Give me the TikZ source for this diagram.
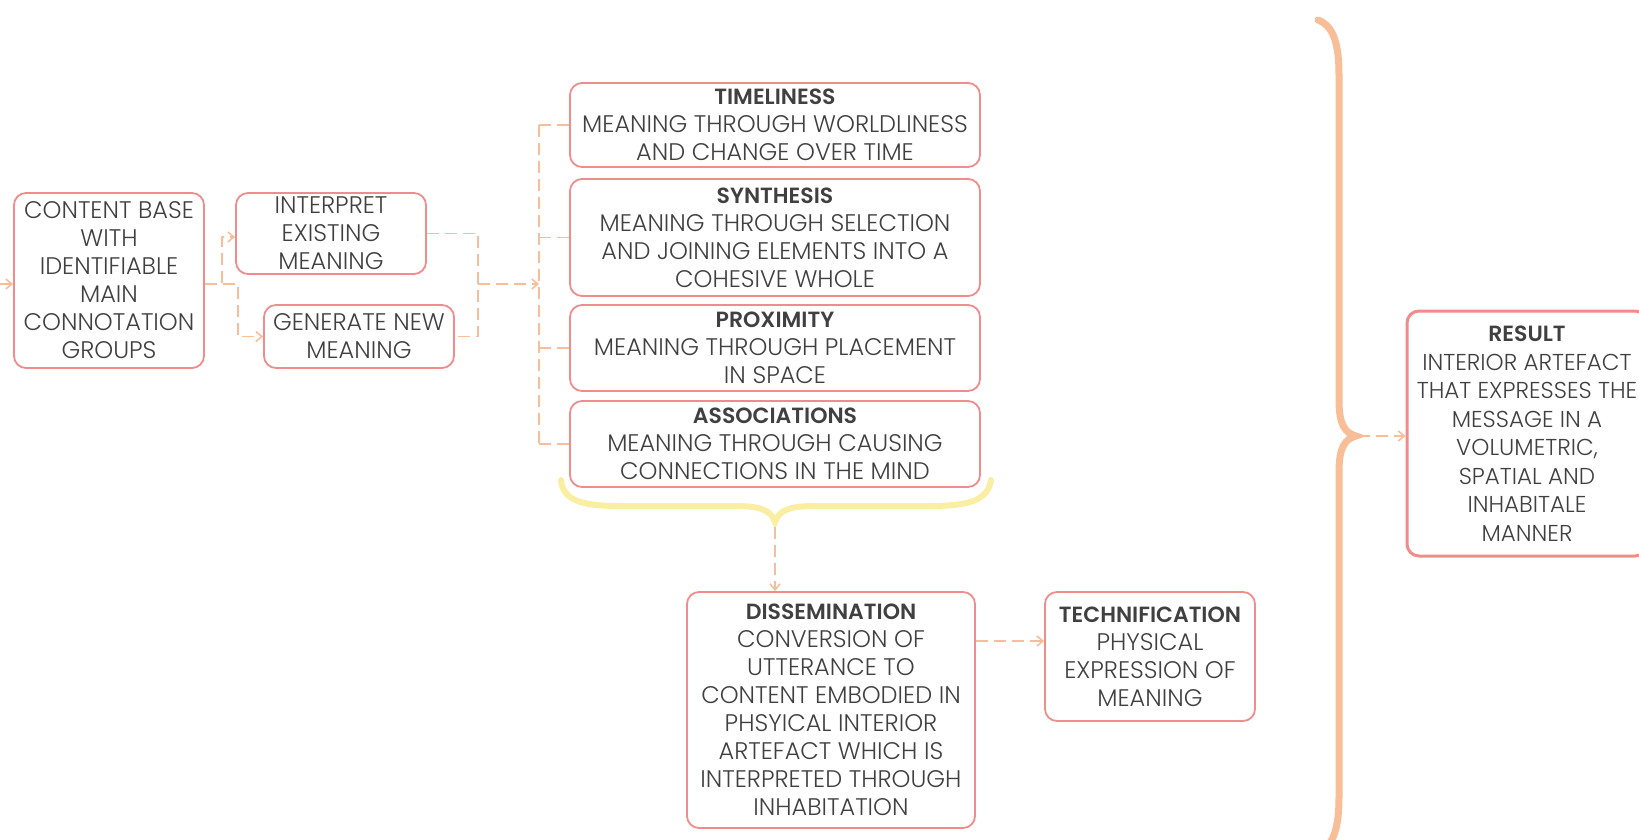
\documentclass[tikz,border=0pt]{standalone}
\usepackage{fontspec}
\setmainfont{Poppins}[UprightFont=* Light, BoldFont=* SemiBold]
\usetikzlibrary{arrows.meta}
\definecolor{boxc}{HTML}{F08C8C}
\definecolor{conc}{HTML}{F9BE98}
\definecolor{yelc}{HTML}{F9EEA2}
\definecolor{bracec}{HTML}{F7BE98}
\definecolor{txtc}{HTML}{404040}
\newcommand{\ttl}[1]{{\fontsize{22}{28}\selectfont\bfseries #1}}
\begin{document}
\begin{tikzpicture}[x=1pt,y=-1pt,
  box/.style={draw=boxc, line width=1.8pt, rounded corners=12pt, align=center,
    text=txtc, font=\fontsize{24}{28}\selectfont, inner sep=0pt},
  conn/.style={draw=conc, line width=1.6pt, dash pattern=on 12pt off 6pt},
  arr/.style={-{Straight Barb[length=6pt,width=10pt]}}
]
\useasboundingbox (0,0) rectangle (1639,840);
\clip (0,0) rectangle (1639,840);

% boxes
\node[box, minimum width=190pt, minimum height=175pt] (cb) at (109,280.5)
  {CONTENT BASE\\WITH\\IDENTIFIABLE\\MAIN\\CONNOTATION\\GROUPS};
\node[box, minimum width=190pt, minimum height=81pt] (interp) at (331,233.5)
  {INTERPRET\\EXISTING\\MEANING};
\node[box, minimum width=190pt, minimum height=63pt] (gen) at (359,336.5)
  {GENERATE NEW\\MEANING};
\node[box, minimum width=410pt, minimum height=84pt] (time) at (775,125)
  {\ttl{TIMELINESS}\\MEANING THROUGH WORLDLINESS\\AND CHANGE OVER TIME};
\node[box, minimum width=410pt, minimum height=117pt] (syn) at (775,237.5)
  {\ttl{SYNTHESIS}\\MEANING THROUGH SELECTION\\AND JOINING ELEMENTS INTO A\\COHESIVE WHOLE};
\node[box, minimum width=410pt, minimum height=86pt] (prox) at (775,348)
  {\ttl{PROXIMITY}\\MEANING THROUGH PLACEMENT\\IN SPACE};
\node[box, minimum width=410pt, minimum height=86pt] (assoc) at (775,444)
  {\ttl{ASSOCIATIONS}\\MEANING THROUGH CAUSING\\CONNECTIONS IN THE MIND};
\node[box, minimum width=288pt, minimum height=236pt] (diss) at (831,710)
  {\ttl{DISSEMINATION}\\CONVERSION OF\\UTTERANCE TO\\CONTENT EMBODIED IN\\PHSYICAL INTERIOR\\ARTEFACT WHICH IS\\INTERPRETED THROUGH\\INHABITATION};
\node[box, minimum width=210pt, minimum height=129pt] (tech) at (1150,656.5)
  {\ttl{TECHNIFICATION}\\PHYSICAL\\EXPRESSION OF\\MEANING};
\node[box, line width=3pt, minimum width=240pt, minimum height=245pt,
  font=\fontsize{23}{28.5}\selectfont] (result) at (1527,433.5)
  {\ttl{RESULT}\\INTERIOR ARTEFACT\\THAT EXPRESSES THE\\MESSAGE IN A\\VOLUMETRIC,\\SPATIAL AND\\INHABITALE\\MANNER};

% incoming
\coordinate (in) at (0,284);
\draw[conn, arr] (in) -- (cb.west |- in);

% split
\coordinate (ja) at (222,284);
\coordinate (jb) at (238,284);
\coordinate (ia) at (222,237);
\coordinate (gb) at (238,336.5);
\draw[conn, arr] (cb.east |- ja) -- (ja) -- (ia) -- (interp.west |- ia);
\draw[conn, arr] (cb.east |- ja) -- (jb) -- (gb) -- (gen.west |- gb);

% merge
\coordinate (m) at (478,284);
\coordinate (bk) at (539,284);
\draw[conn] (interp.east) -- (interp.east -| m) -- (gen.east -| m) -- (gen.east);
\draw[conn, arr] (m) -- (bk);
\draw[conn] (time.west -| bk) -- (assoc.west -| bk);
\foreach \n in {time,syn,prox,assoc} \draw[conn] (\n.west -| bk) -- (\n.west);

% yellow brace
\draw[yelc, line width=6pt, line cap=round]
  (561,480) .. controls (563,500) and (580,506) .. (620,506) -- (735,506)
  .. controls (760,506) and (771,510) .. (775,522)
  .. controls (779,510) and (790,506) .. (815,506) -- (930,506)
  .. controls (970,506) and (988,500) .. (991,480);
\coordinate (ybt) at (775,527);
\draw[conn, arr] (ybt) -- (diss.north -| ybt);

% dissemination -> technification
\coordinate (dt) at (0,641);
\draw[conn, arr] (diss.east |- dt) -- (tech.west |- dt);

% big brace
\draw[bracec, line width=7pt, line cap=round]
  (1318,20) .. controls (1334,26) and (1339,45) .. (1339,75) -- (1339,400)
  .. controls (1339,425) and (1345,433) .. (1356,436)
  .. controls (1345,439) and (1339,447) .. (1339,472) -- (1339,797)
  .. controls (1339,827) and (1334,846) .. (1318,852);
\coordinate (bt) at (1358,436);
\draw[conn, arr] (bt) -- (result.west |- bt);
\end{tikzpicture}
\end{document}
